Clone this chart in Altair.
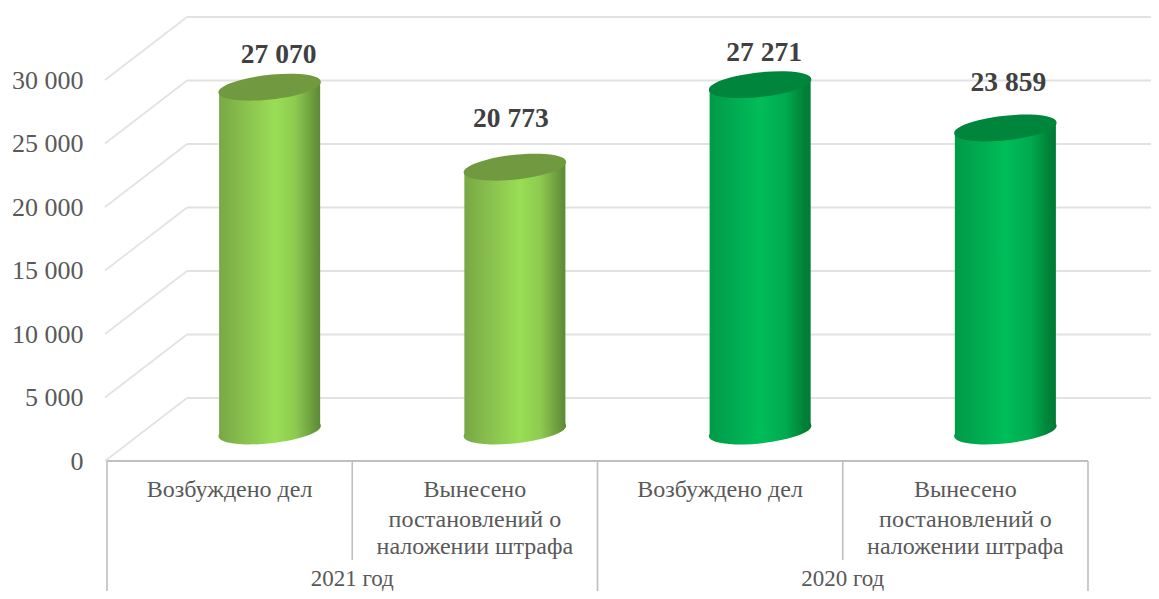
import altair as alt
import pandas as pd

# ---- chart values
SERIES_YEARS = ["2021 год", "2021 год", "2020 год", "2020 год"]
CATEGORIES = ["Возбуждено дел", "Вынесено постановлений о наложении штрафа",
              "Возбуждено дел", "Вынесено постановлений о наложении штрафа"]
VALUES = [27070, 20773, 27271, 23859]
VALUE_LABELS = ["27 070", "20 773", "27 271", "23 859"]
TICKS = [0, 5000, 10000, 15000, 20000, 25000, 30000]
CAT_LINES = [["Возбуждено дел"],
             ["Вынесено", "постановлений о", "наложении штрафа"],
             ["Возбуждено дел"],
             ["Вынесено", "постановлений о", "наложении штрафа"]]
YEARS = ["2021 год", "2020 год"]

# ---- style / layout
FONT = "Liberation Serif"
W_AXIS = 981
PLOT_W, PLOT_H = 1044, 381
DEPTH_X, DEPTH_Y = 80, 63
MID_X, MID_Y = 40, 30
GRID = "#e2e2e2"
AXIS = "#bfbfbf"
TXT = "#595959"
LIGHT_TOP, DARK_TOP = "#71993f", "#00853d"
LIGHT_STOPS = [(0, "#78a845"), (0.2, "#86bb4c"), (0.55, "#99dd55"), (0.75, "#8ecb50"),
               (0.92, "#6c9c3e"), (1, "#5c8a35")]
DARK_STOPS = [(0, "#009a47"), (0.2, "#00a850"), (0.5, "#00bd58"), (0.75, "#00aa4f"),
              (0.93, "#008238"), (1, "#007a36")]
TILT_UNITS = 430      # ellipse tilt expressed in value units
HALF_W_UNITS = 0.206  # half a cylinder's width in category units
ELLIPSE = ("M -0.994,0.108 A 1 0.235 -6.2 1 1 0.994,-0.108 "
           "A 1 0.235 -6.2 1 1 -0.994,0.108 Z")
ELLIPSE_SIZE = 10609

x_scale = alt.Scale(domain=[0, 4], range=[0, W_AXIS])
y_scale = alt.Scale(domain=[0, 30000], range=[PLOT_H, 0])


def grad(stops):
    return alt.LinearGradient(gradient="linear", x1=0, x2=1, y1=0, y2=0,
                              stops=[alt.GradientStop(offset=o, color=c) for o, c in stops])


X = lambda f="c": alt.X(f"{f}:Q", scale=x_scale, axis=None)

df = pd.DataFrame({"c": [i + 0.5 for i in range(4)], "v": VALUES, "label": VALUE_LABELS,
                   "year": SERIES_YEARS, "cat": CATEGORIES})
ticks = pd.DataFrame({"v": TICKS})

layers = []

# walls
layers.append(alt.Chart(ticks).mark_rule(color=GRID, strokeWidth=2, yOffset=-DEPTH_Y).encode(
    y=alt.Y("v:Q", scale=y_scale, axis=alt.Axis(
        values=TICKS, domain=False, ticks=False, grid=False, title=None,
        labelFont=FONT, labelFontSize=26, labelColor=TXT, labelPadding=24,
        labelExpr="replace(format(datum.value, ','), ',', ' ')")),
    x=alt.value(DEPTH_X), x2=alt.value(PLOT_W)))
layers.append(alt.Chart(ticks).mark_rule(color=GRID, strokeWidth=1.6, y2Offset=-DEPTH_Y).encode(
    y=alt.Y("v:Q", scale=y_scale), y2="v:Q",
    x=alt.value(-2), x2=alt.value(DEPTH_X)))

# category frame
layers.append(alt.Chart(pd.DataFrame({"v": [0]})).mark_rule(color=AXIS, strokeWidth=2).encode(
    y=alt.Y("v:Q", scale=y_scale), x=alt.value(0), x2=alt.value(W_AXIS)))
layers.append(alt.Chart(pd.DataFrame({"p": [1, 3]})).mark_rule(color=AXIS, strokeWidth=1.6).encode(
    x=X("p"), y=alt.value(PLOT_H), y2=alt.value(480)))
layers.append(alt.Chart(pd.DataFrame({"p": [0, 2, 4]})).mark_rule(color=AXIS, strokeWidth=1.6).encode(
    x=X("p"), y=alt.value(PLOT_H), y2=alt.value(519)))

# cylinders
for idx, stops, top in [([0, 1], LIGHT_STOPS, LIGHT_TOP), ([2, 3], DARK_STOPS, DARK_TOP)]:
    sub = df.iloc[idx]
    layers.append(alt.Chart(sub.assign(z=0)).mark_point(
        shape=ELLIPSE, size=ELLIPSE_SIZE, filled=True, fill=grad(stops), opacity=1,
        strokeWidth=0, xOffset=MID_X, yOffset=-MID_Y).encode(
        x=X(), y=alt.Y("z:Q", scale=y_scale)))
    rows = []
    for _, r in sub.iterrows():
        rows.append({"k": r.c, "x": r.c - HALF_W_UNITS, "top": r.v - TILT_UNITS, "base": -TILT_UNITS})
        rows.append({"k": r.c, "x": r.c + HALF_W_UNITS, "top": r.v + TILT_UNITS, "base": TILT_UNITS})
    layers.append(alt.Chart(pd.DataFrame(rows)).mark_area(
        fill=grad(stops), opacity=1, xOffset=MID_X, yOffset=-MID_Y, y2Offset=-MID_Y).encode(
        x=X("x"), y=alt.Y("top:Q", scale=y_scale), y2="base:Q", detail="k:N"))
    layers.append(alt.Chart(sub).mark_point(
        shape=ELLIPSE, size=ELLIPSE_SIZE, filled=True, fill=top, opacity=1,
        strokeWidth=0, xOffset=MID_X, yOffset=-MID_Y).encode(
        x=X(), y=alt.Y("v:Q", scale=y_scale)))

# value labels, each nudged as in the source picture
NUDGES = [(49, -32), (36, -48), (44, -32), (43, -45)]
for i, (dx, dy) in enumerate(NUDGES):
    layers.append(alt.Chart(df.iloc[[i]]).mark_text(
        font=FONT, fontSize=27.5, fontWeight="bold", color="#404040", baseline="middle",
        xOffset=dx, yOffset=dy - MID_Y).encode(
        x=X(), y=alt.Y("v:Q", scale=y_scale), text="label:N"))

# category text
LINE_Y = [410, 440, 467]
for i, lines in enumerate(CAT_LINES):
    for j, t in enumerate(lines):
        layers.append(alt.Chart(pd.DataFrame({"c": [i + 0.5], "t": [t]})).mark_text(
            font=FONT, fontSize=24, color=TXT, baseline="middle").encode(
            x=X(), y=alt.value(LINE_Y[j]), text="t:N"))
layers.append(alt.Chart(pd.DataFrame({"c": [1, 3], "t": YEARS})).mark_text(
    font=FONT, fontSize=23, color=TXT, baseline="middle").encode(
    x=X(), y=alt.value(499), text="t:N"))

chart = alt.layer(*layers).properties(
    width=PLOT_W, height=PLOT_H,
    autosize=alt.AutoSizeParams(type="none"),
    padding={"left": 99, "top": 72, "right": 0, "bottom": 130},
    background="white",
).configure_view(stroke=None)

chart.save("out.html", embed_options={"renderer": "svg", "actions": False})
